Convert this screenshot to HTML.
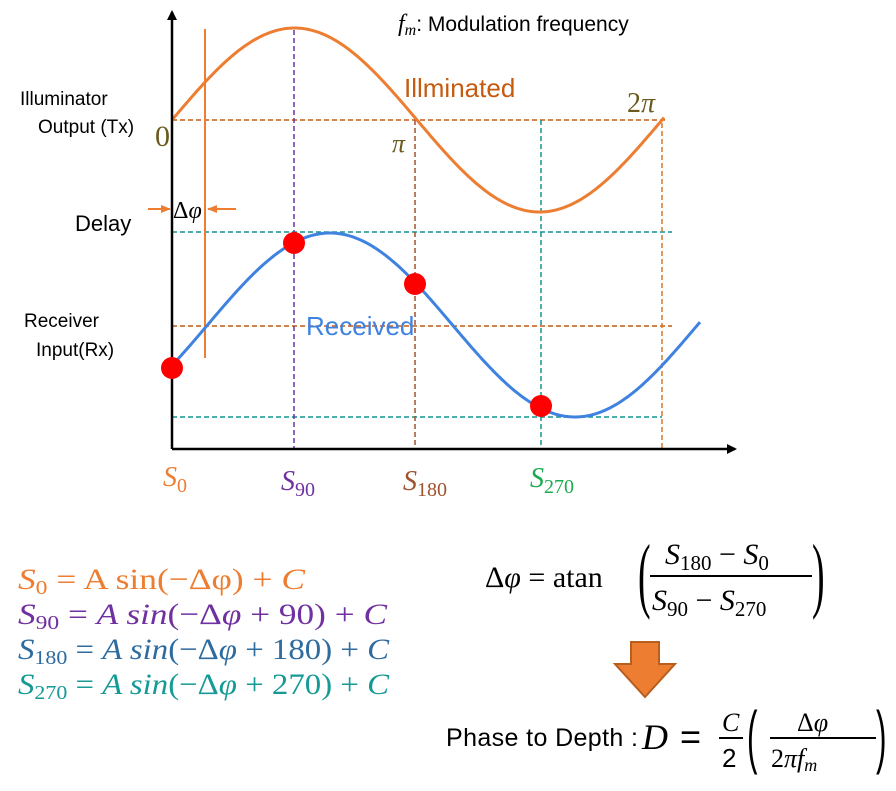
<!DOCTYPE html>
<html><head><meta charset="utf-8"><style>
html,body{margin:0;padding:0;background:#fff;}
svg{display:block;}
.s{font-family:"Liberation Sans",sans-serif;}
.m{font-family:"Liberation Serif",serif;font-style:italic;}
</style></head><body>
<svg id="g" width="896" height="791" viewBox="0 0 896 791" xmlns="http://www.w3.org/2000/svg">
<defs>
<marker id="ah" markerWidth="10" markerHeight="10" refX="8" refY="5" orient="auto" markerUnits="userSpaceOnUse"><path d="M0,0 L10,5 L0,10 z" fill="#000"/></marker>
<marker id="oa" markerWidth="10" markerHeight="10" refX="9" refY="5" orient="auto" markerUnits="userSpaceOnUse"><path d="M0,1 L10,5 L0,9 z" fill="#ED7D31"/></marker>
</defs>
<g stroke-width="1.5" stroke-dasharray="5,3" fill="none">
<line x1="172" y1="120" x2="668" y2="120" stroke="#C55A11"/>
<line x1="172" y1="232" x2="672" y2="232" stroke="#139494"/>
<line x1="172" y1="326" x2="672" y2="326" stroke="#C55A11"/>
<line x1="172" y1="417" x2="662" y2="417" stroke="#139494"/>
<line x1="294" y1="30" x2="294" y2="449" stroke="#7030A0"/>
<line x1="415" y1="120" x2="415" y2="449" stroke="#A0522D"/>
<line x1="541" y1="120" x2="541" y2="449" stroke="#139494"/>
<line x1="662" y1="123" x2="662" y2="449" stroke="#D07A30"/>
</g>
<line x1="205" y1="29" x2="205" y2="358" stroke="#ED7D31" stroke-width="2"/>
<path id="orange" fill="none" stroke="#ED7D31" stroke-width="3"/>
<path id="blue" fill="none" stroke="#3F82E0" stroke-width="3"/>
<line x1="172" y1="449" x2="172" y2="12" stroke="#000" stroke-width="2.5" marker-end="url(#ah)"/>
<line x1="172" y1="449" x2="735" y2="449" stroke="#000" stroke-width="2.5" marker-end="url(#ah)"/>
<line x1="148" y1="209" x2="170" y2="209" stroke="#ED7D31" stroke-width="2" marker-end="url(#oa)"/>
<line x1="236" y1="209" x2="208" y2="209" stroke="#ED7D31" stroke-width="2" marker-end="url(#oa)"/>
<g fill="#FF0000"><circle cx="172" cy="368" r="11"/><circle cx="294" cy="243" r="11"/><circle cx="415" cy="284" r="11"/><circle cx="541" cy="406" r="11"/></g>
<text x="20" y="105" class="s" font-size="19">Illuminator</text>
<text x="38" y="133" class="s" font-size="19">Output  (Tx)</text>
<text x="75" y="231" class="s" font-size="22">Delay</text>
<text x="24" y="327" class="s" font-size="19">Receiver</text>
<text x="36" y="356" class="s" font-size="19">Input(Rx)</text>
<text x="155" y="146" font-family="Liberation Serif,serif" font-size="30" fill="#6B5A1E">0</text>
<text x="392" y="152" class="m" font-size="26" fill="#6B5A1E">π</text>
<text x="627" y="112" class="m" font-size="28" fill="#6B5A1E"><tspan font-style="normal">2</tspan>π</text>
<text x="404" y="97" class="s" font-size="26" fill="#C55A11">Illminated</text>
<text x="306" y="335" class="s" font-size="26" fill="#3F82E0">Received</text>
<text x="173" y="218" class="m" font-size="24" fill="#000"><tspan font-style="normal">Δ</tspan>φ</text>
<text x="398" y="31" class="s" font-size="21"><tspan class="m" font-size="24">f</tspan><tspan class="m" font-size="16" dy="4">m</tspan><tspan dy="-4">: Modulation frequency</tspan></text>
<text x="163" y="486" class="m" font-size="28" fill="#ED7D31">S<tspan font-size="20" font-style="normal" dy="6">0</tspan></text>
<text x="281" y="490" class="m" font-size="28" fill="#7030A0">S<tspan font-size="20" font-style="normal" dy="6">90</tspan></text>
<text x="403" y="490" class="m" font-size="28" fill="#A0522D">S<tspan font-size="20" font-style="normal" dy="6">180</tspan></text>
<text x="530" y="487" class="m" font-size="28" fill="#1DAA50">S<tspan font-size="20" font-style="normal" dy="6">270</tspan></text>
<g font-size="30" class="m">
<text x="18" y="589" fill="#ED7D31" textLength="287" lengthAdjust="spacingAndGlyphs">S<tspan font-size="20" font-style="normal" dy="5">0</tspan><tspan font-style="normal" dy="-5">   = A sin(−Δφ) + </tspan>C</text>
<text x="18" y="624" fill="#7030A0" textLength="369" lengthAdjust="spacingAndGlyphs">S<tspan font-size="20" font-style="normal" dy="5">90</tspan><tspan font-style="normal" dy="-5"> = </tspan>A sin<tspan font-style="normal">(−Δ</tspan>φ<tspan font-style="normal"> + 90) + </tspan>C</text>
<text x="18" y="659" fill="#2E6B9E" textLength="371" lengthAdjust="spacingAndGlyphs">S<tspan font-size="20" font-style="normal" dy="5">180</tspan><tspan font-style="normal" dy="-5"> = </tspan>A sin<tspan font-style="normal">(−Δ</tspan>φ<tspan font-style="normal"> + 180) + </tspan>C</text>
<text x="18" y="694" fill="#159A96" textLength="371" lengthAdjust="spacingAndGlyphs">S<tspan font-size="20" font-style="normal" dy="5">270</tspan><tspan font-style="normal" dy="-5"> = </tspan>A sin<tspan font-style="normal">(−Δ</tspan>φ<tspan font-style="normal"> + 270) + </tspan>C</text>
</g>
<g class="m" font-size="30">
<text x="485" y="587"><tspan font-style="normal">Δ</tspan>φ<tspan font-style="normal"> =  atan</tspan></text>
<text x="638" y="602" font-size="84" font-style="normal" transform="translate(638,602) scale(0.45,1) translate(-638,-602)">(</text>
<text x="665" y="564" font-size="30">S<tspan font-size="21" font-style="normal" dy="6">180</tspan><tspan font-style="normal" dy="-6"> − </tspan>S<tspan font-size="21" font-style="normal" dy="6">0</tspan></text>
<line x1="650" y1="576" x2="812" y2="576" stroke="#000" stroke-width="2"/>
<text x="652" y="610" font-size="30">S<tspan font-size="21" font-style="normal" dy="6">90</tspan><tspan font-style="normal" dy="-6"> − </tspan>S<tspan font-size="21" font-style="normal" dy="6">270</tspan></text>
<text x="812" y="602" font-size="84" font-style="normal" transform="translate(812,602) scale(0.45,1) translate(-812,-602)">)</text>
</g>
<path d="M631,642 L659,642 L659,664 L675,664 L645,697 L615,664 L631,664 Z" fill="#ED7D31" stroke="#B85E1E" stroke-width="2"/>
<text x="446" y="746" class="s" font-size="25" textLength="192">Phase to Depth : </text>
<text x="642" y="749" class="m" font-size="36">D</text>
<text x="680" y="749" class="s" font-size="36">=</text>
<text x="722" y="731" class="m" font-size="26">C</text>
<line x1="719" y1="738" x2="743" y2="738" stroke="#000" stroke-width="2"/>
<text x="722" y="767" class="s" font-size="26">2</text>
<text x="747" y="760" font-size="70" class="s" transform="translate(747,760) scale(0.45,1) translate(-747,-760)">(</text>
<text x="797" y="731" class="m" font-size="26"><tspan font-style="normal">Δ</tspan>φ</text>
<line x1="770" y1="738" x2="876" y2="738" stroke="#000" stroke-width="2"/>
<text x="771" y="767" class="m" font-size="26"><tspan font-style="normal">2</tspan>πf<tspan font-size="18" dy="4">m</tspan></text>
<text x="876" y="760" font-size="70" class="s" transform="translate(876,760) scale(0.45,1) translate(-876,-760)">)</text>
</svg>
<script>
function mk(x0,x1,f){var d="";for(var x=x0;x<=x1;x+=2){d+=(x==x0?"M":"L")+x+","+f(x).toFixed(1)+" ";}return d;}
var P=490;
document.getElementById("orange").setAttribute("d",mk(172,664,function(x){return 120-92*Math.sin((x-172)*2*Math.PI/P);}));
document.getElementById("blue").setAttribute("d",mk(172,700,function(x){return 325-92*Math.sin((x-207.5)*2*Math.PI/P);}));
</script>
</body></html>
